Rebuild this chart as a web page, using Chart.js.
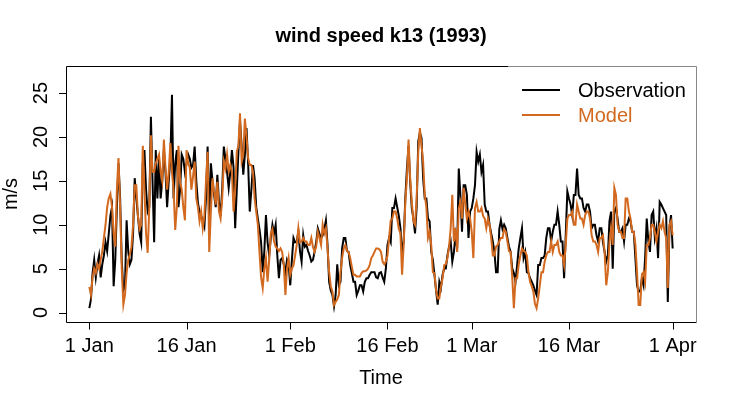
<!DOCTYPE html>
<html>
<head>
<meta charset="utf-8">
<script src="https://cdn.jsdelivr.net/npm/chart.js@4/dist/chart.umd.min.js"></script>
<style>
  html, body { margin: 0; padding: 0; background: #fff; }
  #wrap { width: 730px; height: 405px; }
</style>
</head>
<body>
<div id="wrap"><canvas id="windChart" width="730" height="405"></canvas></div>
<script>
// 6-hourly wind speed (m/s), 1 Jan 1993 00:00 .. 1 Apr 1993 00:00
const stepDays = 0.25;

const observation = [
  0.5, 1.5, 4.5, 6.0,    4.0, 5.5, 6.5, 4.0,    5.5, 6.5, 8.0, 7.0,    9.0, 11.0, 12.0, 3.0,
  6.0, 12.0, 17.0, 13.0, 6.0, 2.5, 3.0, 10.5,   7.0, 5.5, 6.0, 9.0,    15.3, 13.0, 11.0, 9.0,
  8.0, 17.0, 18.5, 14.0, 11.5, 12.0, 22.3, 15.0, 8.0, 18.5, 13.0, 17.5, 13.0, 15.0, 18.5, 16.0,
  12.0, 15.0, 17.5, 24.8, 13.0, 17.0, 18.5, 12.0, 14.0, 18.0, 17.5, 16.0, 17.0, 18.0, 17.5, 16.5,
  16.8, 18.9, 15.0, 12.5, 11.5, 11.0, 10.5, 9.8, 13.0, 18.9, 10.0, 17.0, 15.0, 13.4, 12.0, 15.7,
  12.6, 11.0, 14.0, 18.9, 17.5, 16.0, 14.2, 16.0, 18.5, 16.5, 9.6, 14.0, 18.3, 21.8, 19.0, 15.7,
  18.0, 21.0, 17.0, 11.5, 14.0, 16.8, 15.3, 12.0, 10.7, 9.5, 8.0, 4.6,  7.0, 11.1, 8.0, 6.5,
  8.5, 10.0, 9.0, 10.0,  6.5, 3.9, 6.0, 6.2,    5.5, 4.6, 6.0, 5.5,    3.1, 6.0, 8.5, 8.0,
  8.1, 9.2, 7.0, 5.8,    8.8, 7.5, 7.7, 7.0,    6.5, 5.8, 6.0, 6.9,    8.0, 9.6, 9.0, 8.5,
  8.8, 9.5, 10.5, 7.7,   3.5, 2.5, 2.0, 0.7,    2.0, 5.5, 3.1, 3.5,    7.3, 8.5, 8.5, 7.0,
  6.9, 5.4, 4.5, 3.5,    3.5, 2.0, 2.5, 3.1,    3.1, 2.4, 3.5, 3.9,    3.9, 4.3, 4.6, 4.6,
  4.6, 4.0, 3.9, 4.5,    4.6, 4.0, 3.5, 5.0,    7.7, 8.5, 8.0, 11.9,   11.9, 13.0, 12.0, 11.0,
  9.6, 6.9, 8.1, 13.0,   16.4, 19.0, 14.9, 11.9, 10.7, 9.0, 12.0, 19.5, 20.5, 19.9, 15.3, 13.0,
  13.0, 10.7, 10.4, 6.9, 6.0, 4.3, 2.5, 0.9,    3.5, 2.8, 4.3, 5.0,    5.0, 6.5, 7.5, 8.1,
  5.8, 6.9, 8.8, 7.3,    16.4, 13.4, 9.2, 14.5, 14.5, 13.4, 8.5, 11.5, 11.9, 13.0, 14.5, 18.3,
  17.2, 18.0, 16.0, 16.8, 12.3, 11.5, 11.5, 10.0, 9.0, 8.1, 6.9, 4.6,  4.6, 9.5, 10.5, 9.5,
  10.0, 9.6, 8.5, 7.5,   6.9, 5.0, 4.5, 3.5,    5.4, 7.3, 8.5, 9.6,    6.2, 6.9, 4.6, 4.5,
  3.9, 3.5, 3.1, 2.5,    2.0, 5.4, 5.4, 6.2,    6.2, 6.5, 8.5, 9.6,    9.6, 8.1, 9.2, 10.0,
  10.0, 11.5, 10.0, 8.1, 8.1, 3.9, 8.8, 13.8,   13.0, 12.3, 11.1, 13.4, 13.4, 16.4, 13.4, 13.0,
  13.0, 11.9, 11.5, 12.3, 12.3, 11.5, 9.6, 10.0, 10.0, 8.8, 8.1, 9.6,  9.6, 8.0, 6.9, 5.8,
  6.5, 10.4, 11.5, 5.0,  11.5, 11.9, 10.7, 9.2, 9.2, 9.6, 8.1, 10.0,  10.0, 10.7, 10.4, 9.2,
  9.2, 6.2, 3.1, 2.4,    2.4, 3.9, 3.1, 6.2,    10.7, 8.1, 6.9, 11.1,  11.5, 8.5, 9.6, 6.2,
  12.6, 12.3, 11.9, 11.5, 11.1, 1.2, 9.6, 11.1, 7.3
];

const model = [
  2.9, 2.0, 4.0, 5.0,    4.5, 5.5, 5.0, 6.0,    7.0, 8.5, 10.0, 12.0,  13.0, 13.5, 12.0, 9.0,
  7.5, 14.0, 17.6, 12.0, 5.0, 0.9, 2.0, 4.5,    6.0, 6.6, 7.5, 10.0,   14.5, 14.5, 11.0, 9.5,
  10.0, 19.0, 14.0, 9.0, 6.8, 12.0, 20.2, 16.0, 16.0, 17.0, 17.5, 18.0, 16.0, 15.0, 19.7, 16.5,
  14.0, 16.0, 19.3, 16.0, 14.0, 9.4, 12.0, 19.0, 15.0, 14.0, 12.0, 10.5, 18.5, 17.0, 16.5, 14.0,
  15.5, 17.2, 13.0, 12.0, 10.4, 11.5, 9.6, 11.0, 15.0, 18.3, 6.9, 11.5, 15.3, 13.8, 12.3, 14.9,
  11.5, 10.7, 13.0, 17.2, 16.4, 18.0, 16.1, 16.8, 16.0, 11.5, 14.0, 18.3, 19.0, 22.7, 17.2, 18.0,
  22.1, 20.0, 17.6, 16.8, 16.8, 16.0, 13.0, 11.5, 10.0, 6.9, 4.0, 2.8,  5.0, 6.2, 3.5, 6.0,
  9.0, 9.5, 8.1, 7.5,    7.3, 7.0, 7.3, 6.9,    5.5, 2.0, 5.0, 6.2,    4.3, 5.0, 5.4, 6.5,
  7.7, 9.6, 8.0, 8.1,    8.5, 8.1, 8.1, 7.7,    7.7, 8.5, 7.5, 6.9,    7.5, 9.2, 8.5, 7.7,
  10.0, 9.0, 9.6, 7.3,   4.6, 3.0, 2.4, 0.85,   1.2, 1.5, 2.0, 4.6,    6.2, 7.3, 7.7, 7.0,
  6.9, 6.2, 5.2, 4.3,    4.3, 4.1, 4.1, 4.1,    4.5, 4.7, 4.7, 4.8,    5.0, 5.4, 6.2, 6.5,
  6.9, 7.3, 7.3, 7.2,    6.9, 5.8, 5.5, 5.8,    6.5, 8.5, 10.5, 10.7,  11.5, 11.5, 10.7, 9.5,
  9.0, 4.3, 7.7, 12.6,   15.3, 19.7, 15.3, 12.6, 10.4, 10.0, 13.0, 18.3, 21.0, 19.0, 17.2, 13.4,
  12.0, 8.5, 9.2, 7.7,   4.6, 4.5, 2.5, 1.6,    1.6, 3.0, 3.9, 5.4,    5.5, 6.2, 7.5, 9.6,
  13.4, 8.1, 9.6, 6.9,   11.9, 12.6, 10.7, 14.2, 12.3, 10.7, 11.5, 10.7, 9.2, 6.2, 11.9, 12.6,
  11.5, 11.5, 11.9, 11.0, 10.7, 9.6, 10.7, 10.0, 8.5, 6.5, 6.5, 7.5,  7.7, 8.1, 8.5, 8.5,
  9.5, 9.2, 8.1, 7.0,    6.9, 4.0, 0.5, 3.9,    3.9, 5.5, 6.5, 7.3,    7.0, 6.9, 6.5, 4.6,
  3.5, 3.0, 2.4, 1.0,    0.5, 1.6, 3.1, 4.6,    4.6, 5.8, 6.5, 6.9,    6.9, 8.1, 6.9, 7.7,
  7.7, 8.1, 6.9, 6.5,    6.5, 5.4, 7.7, 10.7,   11.1, 11.1, 11.5, 10.0, 10.0, 12.3, 11.5, 10.7,
  10.7, 10.0, 11.1, 11.5, 11.5, 10.7, 8.8, 8.1, 8.1, 7.7, 6.9, 8.5,    8.5, 8.8, 6.9, 3.1,
  4.6, 8.0, 9.6, 7.7,    14.2, 13.4, 10.0, 9.2, 9.2, 8.5, 8.5, 13.0,  13.0, 11.5, 10.7, 9.2,
  9.2, 7.7, 4.6, 0.85,   0.85, 4.3, 4.6, 3.5,   7.7, 7.7, 8.5, 10.0,   10.0, 9.2, 8.1, 9.2,
  10.0, 9.6, 10.4, 9.2,  8.5, 2.8, 10.0, 10.4,  8.8
];

// axis ticks (days since 1 Jan) and their labels
const xTickDays = [0, 15, 31, 46, 59, 74, 90];
const xTickLabels = ["1 Jan", "16 Jan", "1 Feb", "16 Feb", "1 Mar", "16 Mar", "1 Apr"];
const yTicks = [0, 5, 10, 15, 20, 25];

const seriesNames = ["Observation", "Model"];
const obsColor = "#000000";
const modelColor = "#D2691E";
const FONT = "'Liberation Sans', Arial, Helvetica, sans-serif";

const toPoints = arr => arr.map((v, i) => ({ x: i * stepDays, y: v }));

// R-style box, axes, title and legend
const rFrame = {
  id: "rFrame",
  afterDraw(chart) {
    const ctx = chart.ctx;
    const a = chart.chartArea;
    const xs = chart.scales.x, ys = chart.scales.y;
    ctx.save();

    // legend background hides part of the box
    ctx.fillStyle = "#fff";
    ctx.fillRect(508, a.top + 1, a.right - 509, 70);

    // plot box
    ctx.strokeStyle = "#000";
    ctx.lineWidth = 1;
    ctx.beginPath();
    ctx.moveTo(508, a.top + 0.5);
    ctx.lineTo(a.left + 0.5, a.top + 0.5);
    ctx.lineTo(a.left + 0.5, a.bottom + 0.5);
    ctx.lineTo(a.right + 0.5, a.bottom + 0.5);
    ctx.stroke();
    ctx.strokeStyle = "#888";
    ctx.beginPath();
    ctx.moveTo(508, a.top + 0.5);
    ctx.lineTo(a.right + 0.5, a.top + 0.5);
    ctx.lineTo(a.right + 0.5, a.bottom + 0.5);
    ctx.stroke();

    ctx.strokeStyle = "#000";
    ctx.fillStyle = "#000";
    ctx.font = "20px " + FONT;

    // x axis
    const x0 = Math.round(xs.getPixelForValue(xTickDays[0])) + 0.5;
    const x1 = Math.round(xs.getPixelForValue(xTickDays[xTickDays.length - 1])) + 0.5;
    ctx.beginPath();
    ctx.moveTo(x0, a.bottom + 0.5);
    ctx.lineTo(x1, a.bottom + 0.5);
    xTickDays.forEach(d => {
      const px = Math.round(xs.getPixelForValue(d)) + 0.5;
      ctx.moveTo(px, a.bottom + 0.5);
      ctx.lineTo(px, a.bottom + 7.5);
    });
    ctx.stroke();
    ctx.textAlign = "center";
    ctx.textBaseline = "middle";
    xTickDays.forEach((d, i) => {
      ctx.fillText(xTickLabels[i], xs.getPixelForValue(d), 346);
    });
    ctx.fillText("Time", (a.left + a.right) / 2, 378);

    // y axis
    ctx.beginPath();
    yTicks.forEach(v => {
      const py = Math.round(ys.getPixelForValue(v)) + 0.5;
      ctx.moveTo(a.left + 0.5, py);
      ctx.lineTo(a.left - 7, py);
    });
    ctx.stroke();
    yTicks.forEach(v => {
      ctx.save();
      ctx.translate(41, ys.getPixelForValue(v));
      ctx.rotate(-Math.PI / 2);
      ctx.fillText(String(v), 0, 0);
      ctx.restore();
    });
    ctx.save();
    ctx.translate(11, (a.top + a.bottom) / 2);
    ctx.rotate(-Math.PI / 2);
    ctx.fillText("m/s", 0, 0);
    ctx.restore();

    // title
    ctx.font = "bold 20px " + FONT;
    ctx.fillText("wind speed k13 (1993)", (a.left + a.right) / 2, 36);

    // legend
    ctx.font = "20px " + FONT;
    ctx.textAlign = "left";
    ctx.lineWidth = 2;
    [[obsColor, 91], [modelColor, 116]].forEach(([c, y], i) => {
      ctx.strokeStyle = c;
      ctx.fillStyle = c;
      ctx.beginPath();
      ctx.moveTo(522, y - 1);
      ctx.lineTo(560, y - 1);
      ctx.stroke();
      ctx.fillText(seriesNames[i], 578, y);
    });
    ctx.restore();
  }
};

new Chart(document.getElementById("windChart"), {
  type: "line",
  data: {
    datasets: [
      {
        label: seriesNames[0],
        data: toPoints(observation),
        borderColor: obsColor,
        borderWidth: 2,
        pointRadius: 0,
        tension: 0,
        order: 1
      },
      {
        label: seriesNames[1],
        data: toPoints(model),
        borderColor: modelColor,
        borderWidth: 2,
        pointRadius: 0,
        tension: 0,
        order: 0
      }
    ]
  },
  options: {
    responsive: false,
    animation: false,
    layout: { padding: { left: 66, right: 34, top: 66, bottom: 83 } },
    plugins: { legend: { display: false }, tooltip: { enabled: false } },
    scales: {
      x: { type: "linear", min: -3.6, max: 93.6, display: false },
      y: { type: "linear", min: -1.08, max: 28.08, display: false }
    }
  },
  plugins: [rFrame]
});
</script>
</body>
</html>
